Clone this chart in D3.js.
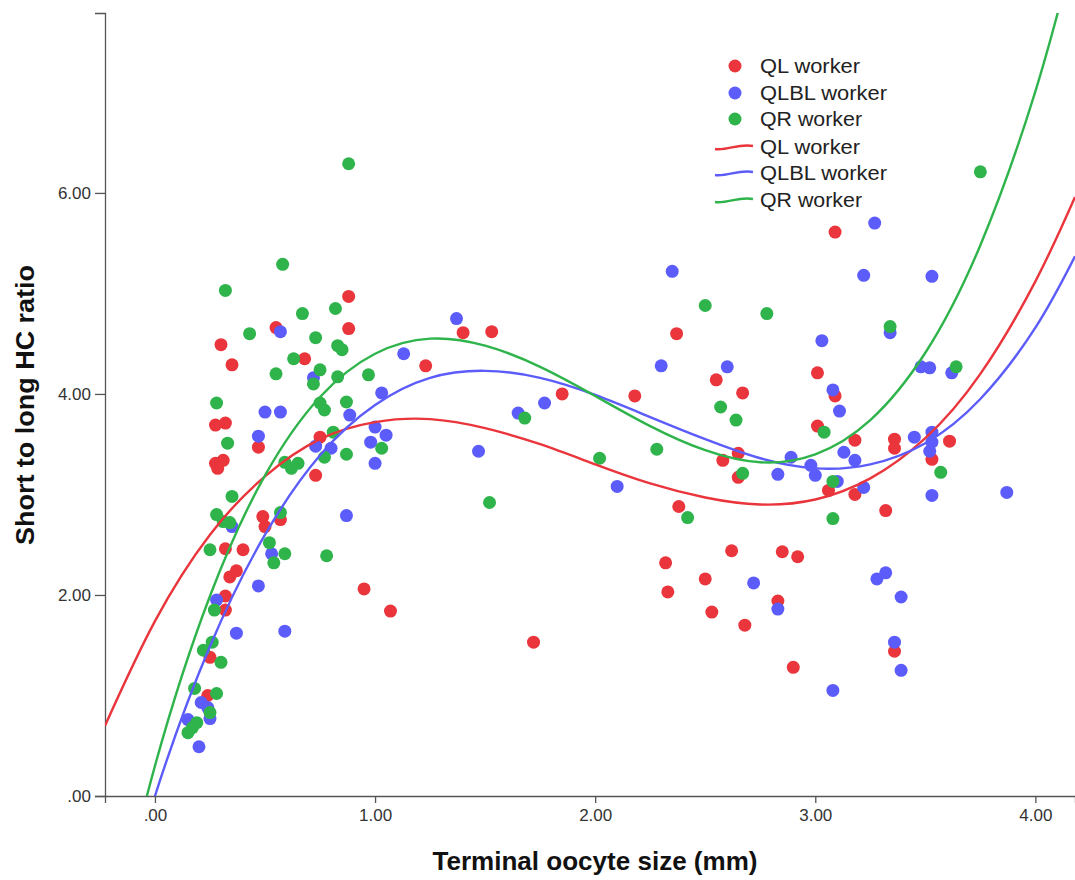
<!DOCTYPE html>
<html>
<head>
<meta charset="utf-8">
<script src="https://cdn.jsdelivr.net/npm/d3@7/dist/d3.min.js"></script>
<style>
  body { margin: 0; background: #ffffff; }
  svg { display: block; font-family: "Liberation Sans", Arial, sans-serif; }
</style>
</head>
<body>
<svg id="chart" width="1075" height="880"></svg>
<script>
// ---------------- DATA ----------------
const seriesNames = ["QL worker", "QLBL worker", "QR worker"];
const xTicks = [0, 1, 2, 3, 4];
const yTicks = [0, 2, 4, 6];
const xTitle = "Terminal oocyte size (mm)";
const yTitle = "Short to long HC ratio";

// scatter points [oocyte size, ratio]
const qlPoints = [
  [0.88,4.97],[0.55,4.66],[0.88,4.65],[0.30,4.49],[0.35,4.29],[0.68,4.35],[0.275,3.69],[0.32,3.71],
  [0.47,3.47],[0.75,3.57],[0.275,3.31],[0.31,3.34],[0.285,3.26],[0.73,3.19],[0.49,2.78],[0.50,2.68],
  [0.57,2.75],[0.32,2.46],[0.40,2.45],[0.37,2.24],[0.34,2.18],[0.95,2.06],[1.07,1.84],[0.32,1.99],
  [0.32,1.85],[0.25,1.38],[0.24,1.00],[1.40,4.61],[1.53,4.62],[1.23,4.28],[1.85,4.00],[2.18,3.98],
  [1.72,1.53],[2.37,4.60],[2.55,4.14],[3.01,4.21],[2.67,4.01],[3.09,3.98],[3.01,3.68],[3.18,3.54],
  [2.65,3.41],[2.58,3.34],[2.65,3.17],[3.06,3.04],[3.18,3.00],[2.38,2.88],[2.62,2.44],[2.85,2.43],
  [2.92,2.38],[2.32,2.32],[2.50,2.16],[2.33,2.03],[2.83,1.94],[2.53,1.83],[2.68,1.70],[2.90,1.28],
  [3.09,5.61],[3.36,3.55],[3.36,3.46],[3.61,3.53],[3.53,3.35],[3.32,2.84],[3.36,1.44]
];
const qlblPoints = [
  [0.57,4.62],[0.72,4.16],[1.13,4.40],[1.03,4.01],[0.50,3.82],[0.57,3.82],[0.885,3.79],[0.47,3.58],
  [0.73,3.48],[0.80,3.46],[1.00,3.67],[1.05,3.59],[0.98,3.52],[1.00,3.31],[0.35,2.68],[0.87,2.79],
  [0.53,2.41],[0.47,2.09],[0.28,1.95],[0.37,1.62],[0.59,1.64],[0.21,0.93],[0.24,0.88],[0.25,0.77],
  [0.15,0.76],[0.20,0.49],[1.37,4.75],[1.65,3.81],[1.77,3.91],[1.47,3.43],[2.10,3.08],[2.35,5.22],
  [3.22,5.18],[3.03,4.53],[2.30,4.28],[2.60,4.27],[3.08,4.04],[3.11,3.83],[2.89,3.37],[3.13,3.42],
  [3.18,3.34],[2.98,3.29],[3.00,3.19],[2.83,3.20],[3.10,3.13],[3.22,3.07],[2.72,2.12],[2.83,1.86],
  [3.08,1.05],[3.27,5.70],[3.53,5.17],[3.34,4.61],[3.48,4.27],[3.52,4.26],[3.62,4.21],[3.45,3.57],
  [3.53,3.62],[3.53,3.52],[3.52,3.43],[3.53,2.99],[3.87,3.02],[3.28,2.16],[3.32,2.22],[3.39,1.98],
  [3.36,1.53],[3.39,1.25]
];
const qrPoints = [
  [0.88,6.29],[0.58,5.29],[0.32,5.03],[0.67,4.80],[0.82,4.85],[0.43,4.60],[0.73,4.56],[0.83,4.48],
  [0.85,4.44],[0.63,4.35],[0.75,4.24],[0.55,4.20],[0.72,4.10],[0.83,4.17],[0.97,4.19],[0.28,3.91],
  [0.87,3.92],[0.75,3.91],[0.77,3.84],[0.33,3.51],[0.81,3.62],[0.77,3.37],[0.87,3.40],[1.03,3.46],
  [0.59,3.32],[0.62,3.26],[0.65,3.31],[0.35,2.98],[0.28,2.80],[0.31,2.73],[0.34,2.72],[0.57,2.82],
  [0.25,2.45],[0.52,2.52],[0.59,2.41],[0.54,2.32],[0.78,2.39],[0.27,1.85],[0.22,1.45],[0.26,1.53],
  [0.30,1.33],[0.18,1.07],[0.28,1.02],[0.25,0.83],[0.19,0.73],[0.17,0.68],[0.15,0.63],[1.68,3.76],
  [2.02,3.36],[1.52,2.92],[2.50,4.88],[2.78,4.80],[2.57,3.87],[2.64,3.74],[3.04,3.62],[2.28,3.45],
  [2.67,3.21],[3.08,3.13],[2.42,2.77],[3.08,2.76],[3.75,6.21],[3.34,4.67],[3.64,4.27],[3.57,3.22]
];

// fit lines at these sizes
const fitX    = [-0.227, 0, 0.25, 0.5, 0.75, 1.0, 1.25, 1.5, 1.75, 2.0, 2.25, 2.5, 2.75, 3.0, 3.25, 3.5, 3.75, 4.0, 4.18];
const qlFit   = [0.70, 1.74, 2.60, 3.18, 3.55, 3.72, 3.75, 3.66, 3.50, 3.30, 3.11, 2.97, 2.90, 2.95, 3.16, 3.56, 4.20, 5.12, 5.96];
const qlblFit = [-1.72, 0.00, 1.49, 2.60, 3.39, 3.89, 4.16, 4.23, 4.16, 3.99, 3.77, 3.55, 3.36, 3.26, 3.30, 3.51, 3.95, 4.66, 5.37];
const qrFit   = [-1.71, 0.30, 1.99, 3.19, 3.97, 4.40, 4.55, 4.48, 4.27, 3.98, 3.68, 3.44, 3.32, 3.40, 3.74, 4.41, 5.48, 7.01, 8.45];

// ---------------- STYLE ----------------
const colors = ["#e9353b", "#5c5cfb", "#2fb44c"];
const xDomain = [-0.227, 4.18];
const yDomain = [0, 7.79];

const svg = d3.select("#chart");
const plot = { left: 105, right: 1075, top: 13, bottom: 796 };

const x = d3.scaleLinear().domain(xDomain).range([plot.left, plot.right]);
const y = d3.scaleLinear().domain(yDomain).range([plot.bottom, plot.top]);

const fmt = v => d3.format(".2f")(v).replace(/^0(?=\.)/, "");

svg.append("defs").append("clipPath").attr("id", "clip")
  .append("rect")
  .attr("x", plot.left).attr("y", plot.top)
  .attr("width", plot.right - plot.left).attr("height", plot.bottom - plot.top);

// axes
const xAxis = svg.append("g")
  .attr("transform", `translate(0,${plot.bottom})`)
  .call(d3.axisBottom(x).tickValues(xTicks).tickFormat(fmt).tickSizeOuter(0).tickSize(7).tickPadding(6));
const yAxis = svg.append("g")
  .attr("transform", `translate(${plot.left},0)`)
  .call(d3.axisLeft(y).tickValues(yTicks).tickFormat(fmt).tickSizeOuter(0).tickSize(10).tickPadding(4));

[xAxis, yAxis].forEach(g => {
  g.select(".domain").attr("stroke", "#555").attr("stroke-width", 1.3);
  g.selectAll(".tick line").attr("stroke", "#555").attr("stroke-width", 1.3);
  g.selectAll(".tick text").attr("fill", "#333").style("font-size", "17px")
    .style("font-family", "'Liberation Sans', Arial, sans-serif");
});

// points
const allPoints = [qlPoints, qlblPoints, qrPoints];
const pts = svg.append("g").attr("clip-path", "url(#clip)");
allPoints.forEach((arr, i) => {
  pts.append("g").selectAll("circle").data(arr).join("circle")
    .attr("cx", d => x(d[0])).attr("cy", d => y(d[1]))
    .attr("r", 6.5).attr("fill", colors[i]);
});

// fit lines
const fits = [qlFit, qlblFit, qrFit];
const line = d3.line().x(d => x(d[0])).y(d => y(d[1])).curve(d3.curveNatural);
const lines = svg.append("g").attr("clip-path", "url(#clip)");
fits.forEach((vals, i) => {
  lines.append("path")
    .datum(fitX.map((xv, k) => [xv, vals[k]]))
    .attr("d", line)
    .attr("fill", "none")
    .attr("stroke", colors[i])
    .attr("stroke-width", 2.4);
});

// axis titles
svg.append("text")
  .attr("x", 595).attr("y", 870)
  .attr("text-anchor", "middle")
  .attr("textLength", 325).attr("lengthAdjust", "spacingAndGlyphs")
  .style("font-size", "25px").style("font-weight", "bold").attr("fill", "#111")
  .text(xTitle);
svg.append("text")
  .attr("transform", "translate(34,405) rotate(-90)")
  .attr("text-anchor", "middle")
  .attr("textLength", 280).attr("lengthAdjust", "spacingAndGlyphs")
  .style("font-size", "25px").style("font-weight", "bold").attr("fill", "#111")
  .text(yTitle);

// legend
const legend = svg.append("g");
const legendTextW = [100, 127, 102];
const dotY = [66, 93, 119];
const lineY = [147, 173, 200];
seriesNames.forEach((name, i) => {
  legend.append("circle").attr("cx", 735).attr("cy", dotY[i]).attr("r", 6.5).attr("fill", colors[i]);
  legend.append("text").attr("x", 760).attr("y", dotY[i] + 7)
    .attr("textLength", legendTextW[i]).attr("lengthAdjust", "spacingAndGlyphs")
    .style("font-size", "20px").attr("fill", "#222").text(name);
});
seriesNames.forEach((name, i) => {
  const cy = lineY[i];
  legend.append("path")
    .attr("d", `M715,${cy + 2} C727,${cy + 4} 739,${cy - 4} 753,${cy - 1}`)
    .attr("fill", "none").attr("stroke", colors[i]).attr("stroke-width", 2.4);
  legend.append("text").attr("x", 760).attr("y", cy + 7)
    .attr("textLength", legendTextW[i]).attr("lengthAdjust", "spacingAndGlyphs")
    .style("font-size", "20px").attr("fill", "#222").text(name);
});
</script>
</body>
</html>
